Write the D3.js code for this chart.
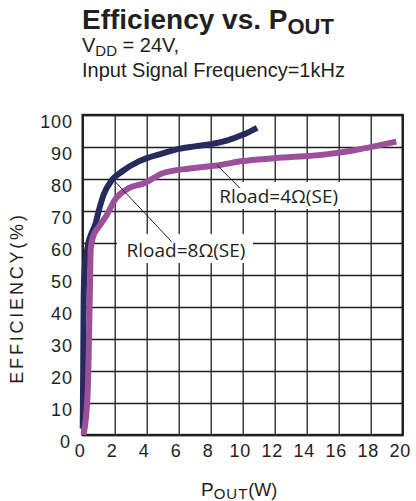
<!DOCTYPE html>
<html>
<head>
<meta charset="utf-8">
<script src="https://cdn.jsdelivr.net/npm/d3@7"></script>
<style>
  body { margin: 0; background: #fff; }
  svg { display: block; font-family: "Liberation Sans", Arial, sans-serif; }
</style>
</head>
<body>
<div id="chart"></div>
<script>
// curve data
var pout8 = [0.0, 0.03, 0.06, 0.1, 0.2, 0.35, 0.55, 0.8, 1.0, 1.3, 1.8, 2.5, 3.5, 5, 6, 7, 8, 9, 10, 10.9];
var eff8  = [2, 20, 42, 50, 55, 60, 63, 66, 70, 75, 79.5, 82.5, 85.5, 88, 89.4, 90.2, 90.9, 92, 93.8, 96];

var pout4 = [0.05, 0.3, 0.45, 0.5, 0.65, 1.0, 1.5, 2.0, 2.9, 3.8, 5.0, 6.7, 8.6, 10, 12, 15.2, 17, 18.5, 19.6];
var eff4  = [0, 12, 45, 58, 62, 65, 68.7, 73.4, 77.2, 78.6, 81.8, 83.3, 84.4, 85.6, 86.5, 87.7, 89, 90.5, 91.7];

var xTicks = [0, 2, 4, 6, 8, 10, 12, 14, 16, 18, 20];
var yTicks = [0, 10, 20, 30, 40, 50, 60, 70, 80, 90, 100];

var seriesNames = ["Rload=8\u03A9(SE)", "Rload=4\u03A9(SE)"];
var seriesColors = ["#272a5c", "#9c509b"];
// annotation: text anchor + leader line, in data units
var labelPos = [[2.74, 55.6], [8.53, 72.5]];
var leaderFrom = [[2.02, 79.2], [8.38, 84.4]];
var leaderTo = [[5.56, 60.4], [9.83, 77.1]];

var W = 416, H = 501;
var margin = {left: 82.7, right: 13.3, top: 115, bottom: 66};
var pw = W - margin.left - margin.right,
    ph = H - margin.top - margin.bottom;

var svg = d3.select("#chart").append("svg")
  .attr("width", W)
  .attr("height", H);

// title block
var title = svg.append("text")
  .attr("x", 82)
  .attr("y", 29)
  .attr("fill", "#231f20")
  .style("font-weight", "bold")
  .style("font-size", "28px");
title.append("tspan").text("Efficiency vs. P");
title.append("tspan").attr("dy", 5).style("font-size", "22px").text("OUT");

var sub = svg.append("text")
  .attr("x", 82)
  .attr("y", 52)
  .attr("fill", "#231f20")
  .style("font-size", "20px");
sub.append("tspan").text("V");
sub.append("tspan").attr("dy", 4).style("font-size", "15px").text("DD");
sub.append("tspan").attr("dy", -4).text(" = 24V,");

svg.append("text")
  .attr("x", 82)
  .attr("y", 77)
  .attr("fill", "#231f20")
  .style("font-size", "20px")
  .text("Input Signal Frequency=1kHz");

var g = svg.append("g")
  .attr("transform", "translate(" + margin.left + "," + margin.top + ")");

var x = d3.scaleLinear().domain([0, 20]).range([0, pw]);
var y = d3.scaleLinear().domain([0, 100]).range([ph, 0]);

// grid via axes
var xAxis = g.append("g")
  .attr("transform", "translate(0," + ph + ")")
  .call(d3.axisBottom(x).tickValues(xTicks).tickSize(-ph).tickPadding(9).tickFormat(d3.format("d")));
var yAxis = g.append("g")
  .call(d3.axisLeft(y).tickValues(yTicks).tickSize(-pw).tickPadding(10).tickFormat(d3.format("d")));

[xAxis, yAxis].forEach(function(a) {
  a.select(".domain").remove();
  a.selectAll(".tick line").attr("stroke", "#231f20").attr("stroke-width", 1.3);
  a.selectAll(".tick text")
    .attr("fill", "#231f20")
    .style("font-size", "18px")
    .style("letter-spacing", "0.8px")
    .style("font-family", "'Liberation Sans', Arial, sans-serif");
});
xAxis.selectAll(".tick text").attr("dx", -3);
yAxis.selectAll(".tick text").attr("dy", "0.67em");
yAxis.selectAll(".tick text").filter(function(d) { return d == 0; }).attr("dx", -2);

// white boxes behind the annotations
var boxes = [[117 - margin.left, 234 - margin.top, 136, 29], [215 - margin.left, 182 - margin.top, 127, 27]];
boxes.forEach(function(b) {
  g.append("rect")
    .attr("x", b[0]).attr("y", b[1])
    .attr("width", b[2]).attr("height", b[3])
    .attr("fill", "#fff");
});

// plot frame
g.append("rect")
  .attr("width", pw)
  .attr("height", ph)
  .attr("fill", "none")
  .attr("stroke", "#231f20")
  .attr("stroke-width", 2.4);

var line = d3.line()
  .x(function(d) { return x(d[0]); })
  .y(function(d) { return y(d[1]); })
  .curve(d3.curveMonotoneX);

var series = [d3.zip(pout8, eff8), d3.zip(pout4, eff4)];
series.forEach(function(s, i) {
  g.append("path")
    .datum(s)
    .attr("d", line)
    .attr("fill", "none")
    .attr("stroke", seriesColors[i])
    .attr("stroke-width", 6)
    .attr("stroke-linejoin", "round");
});

for (var i = 0; i < seriesNames.length; i++) {
  g.append("line")
    .attr("x1", x(leaderFrom[i][0])).attr("y1", y(leaderFrom[i][1]))
    .attr("x2", x(leaderTo[i][0])).attr("y2", y(leaderTo[i][1]))
    .attr("stroke", "#231f20")
    .attr("stroke-width", 1);
  g.append("text")
    .attr("x", x(labelPos[i][0]))
    .attr("y", y(labelPos[i][1]))
    .attr("fill", "#231f20")
    .style("font-family", "'Open Sans', sans-serif")
    .style("font-size", "19px")
    .text(seriesNames[i]);
}

// axis titles
svg.append("text")
  .attr("transform", "translate(23,298) rotate(-90)")
  .attr("text-anchor", "middle")
  .attr("fill", "#231f20")
  .style("font-size", "18px")
  .style("letter-spacing", "2.8px")
  .text("EFFICIENCY(%)");

var xt = svg.append("text")
  .attr("x", 201)
  .attr("y", 496)
  .attr("fill", "#231f20")
  .style("font-size", "19px");
xt.append("tspan").text("P");
xt.append("tspan").attr("dy", 3).style("font-size", "15px").style("letter-spacing", "1px").text("OUT");
xt.append("tspan").attr("dy", -3).style("font-size", "18px").text("(W)");
</script>
</body>
</html>
